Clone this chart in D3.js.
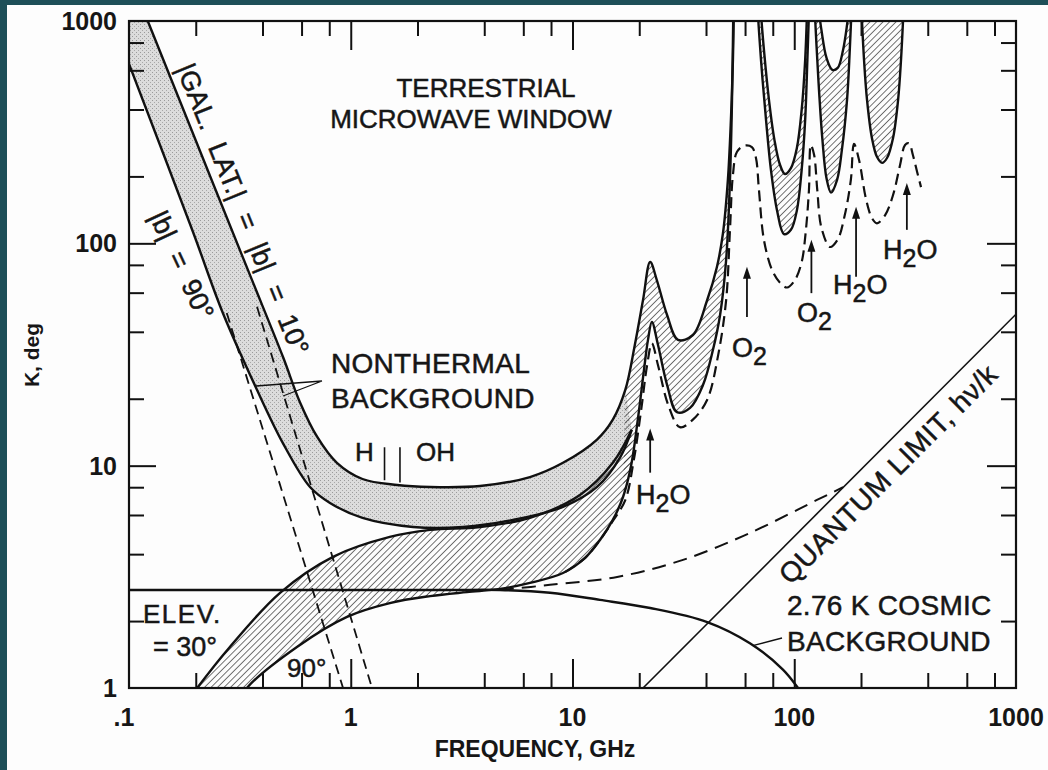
<!DOCTYPE html>
<html>
<head>
<meta charset="utf-8">
<script src="https://cdn.jsdelivr.net/npm/d3@7"></script>
<style>
  body { margin: 0; background: #fff; }
  svg { display: block; }
  text { font-family: "Liberation Sans", Arial, Helvetica, sans-serif; fill: #161616; }
  .ink { stroke: #161616; stroke-width: 0.5px; }
</style>
</head>
<body>
<svg id="chart" width="1048" height="770"></svg>
<script>
// ---- data (frequency in GHz, brightness temperature in K) ----
const xMajor = [0.1, 1, 10, 100, 1000]
const xLabels = [".1", "1", "10", "100", "1000"]
const yMajor = [1, 10, 100, 1000]
const yLabels = ["1", "10", "100", "1000"]
const minorSteps = [2, 4, 6, 8]

// total sky, |b| = 10 deg, elev 30 deg
const galUpper = [[0.1, 1611], [0.122, 990], [0.209, 260], [0.351, 72.1], [0.495, 30.8], [0.59, 19.3], [0.705, 13.5], [0.866, 10.3], [1.13, 8.71], [1.62, 8.19], [2.28, 8.02], [3.83, 8.1], [6.43, 8.89], [9.06, 10.3], [12.9, 13.1], [15.2, 16.1], [17.3, 21.9], [19.1, 34.9], [20.8, 55.6], [22.4, 82.4], [24.0, 68.4], [26.7, 47.6], [29.9, 36.8], [34.9, 38.7], [40.5, 55.6], [44.8, 78.3], [47.7, 111], [50.2, 193], [51.8, 359], [52.9, 668], [53.5, 1245]]
// total sky, |b| = 90 deg
const galLower = [[0.1, 641], [0.194, 113], [0.265, 48.6], [0.378, 21.9], [0.495, 12.6], [0.655, 8.02], [0.806, 6.8], [1.13, 5.82], [1.91, 5.3], [3.21, 5.3], [5.39, 5.7], [9.06, 6.52], [12.9, 8.02], [16.4, 10.9], [18.5, 14.5]]
// atmosphere, elevation 30 deg
const atm30 = [[0.179, 0.838], [0.203, 1.0], [0.285, 1.53], [0.48, 2.68], [0.832, 3.89], [1.5, 4.78], [2.28, 5.14], [3.83, 5.3], [6.43, 5.82], [10.8, 7.38], [15.2, 10.3], [18.5, 14.5]]
// atmosphere, elevation 90 deg
const atm90 = [[0.317, 0.883], [0.34, 1], [0.572, 1.53], [0.962, 2.09], [1.5, 2.41], [2.28, 2.59], [3.34, 2.7], [4.71, 2.79], [6.43, 2.97], [9.06, 3.29], [11.4, 3.85], [13.3, 4.63], [15.2, 5.7], [16.9, 7.23], [18.4, 10.07], [19.7, 16.1], [21.0, 26.9], [21.9, 36.8], [22.8, 44.3], [24.3, 34.9], [26.7, 23.1], [29.6, 17.4], [33.9, 18.2], [38.8, 23.1], [43.0, 33.2], [46.3, 47.6], [49.3, 84.2], [51.3, 193], [52.4, 442], [53.2, 1245]]
// dashed lower curve with the O2 / H2O lines
const atmDashed = [[9.25, 3.32], [11.4, 3.85], [13.3, 4.63], [15.2, 5.64], [17.3, 7.0], [18.9, 10.6], [20.4, 17.8], [21.7, 28.3], [22.8, 35.5], [24.3, 28.3], [27.0, 18.8], [30.5, 14.9], [34.9, 16.1], [40.5, 19.8], [45.4, 31.5], [49.3, 55.6], [51.3, 115], [52.9, 203], [55.2, 258], [59.5, 275], [64.4, 271], [67.2, 242], [69.3, 174], [73.0, 103.5], [79.4, 75.9], [86.3, 66.4], [92.7, 63.3], [100.7, 68.4], [108, 82.4], [112.5, 111], [116.5, 174], [118.8, 277], [123, 249], [127, 174], [132.6, 117.6], [145, 96.3], [157, 104], [169, 134], [180, 193], [186, 280], [196, 237], [211, 157], [224, 130], [236, 123], [257, 134], [279, 165], [300, 225], [316, 277], [329, 282], [343, 249], [358, 210], [373, 179]]
// windows between the saturated lines
const win1Outer = [[67.9, 1245], [70.8, 668], [74.6, 359], [78.5, 214], [83.6, 141], [89.9, 110], [96.6, 115], [102.8, 141], [108, 214], [112, 359], [114.6, 668], [117, 1245]]
const win1Inner = [[70.0, 1245], [73.0, 741], [76.9, 442], [81.4, 292], [86.3, 225], [90.8, 205], [96.6, 218], [102.8, 269], [108, 398], [112, 668], [114.6, 1245]]
const win2Outer = [[123, 1245], [128.5, 543], [134, 292], [139.8, 196], [146.5, 169], [156, 193], [164, 263], [173, 442], [178, 741], [182, 1245]]
const win2Inner = [[127.2, 1245], [132.6, 912], [139.8, 682], [148.6, 603], [157, 615], [166, 741], [173, 960], [178, 1245]]
const win3 = [[200, 1245], [206.4, 668], [212.9, 442], [224, 298], [236, 245], [249, 230], [262, 242], [279, 298], [294, 442], [303, 668], [312.5, 1245]]
// 2.76 K cosmic background and quantum limit
const cmb = [[0.1, 2.76], [0.59, 2.76], [2.8, 2.76], [4.71, 2.76], [7.92, 2.68], [13.3, 2.49], [22.4, 2.29], [40.5, 1.98], [63.1, 1.59], [88.9, 1.21], [104, 1.0], [112, 0.9]]
const cmbQuantum = [[4.71, 2.76], [7.92, 2.91], [15.9, 3.16], [31.5, 3.77], [63.1, 4.98], [126.6, 7.01], [166, 8.0]]
const quantumLimit = [[20.8, 1], [1000, 48]]
// pure galactic power laws
const galDashed10 = [[0.378, 51.8], [1.247, 1]]
const galDashed90 = [[0.276, 48.6], [0.923, 1]]
// spectral line markers
const hMarkers = [[1.42, 12.1, 8.6], [1.667, 12.1, 8.4]]
const lineArrows = [
    { f: 22.4, from: 9.3, to: 14.7, label: ["H", "2", "O"], lx: 636, ly: 504 },
    { f: 61.2, from: 46.6, to: 78.5, label: ["O", "2", ""], lx: 732, ly: 357 },
    { f: 119.5, from: 59.7, to: 103.7, label: ["O", "2", ""], lx: 797, ly: 322 },
    { f: 190, from: 70.8, to: 146, label: ["H", "2", "O"], lx: 833, ly: 294 },
    { f: 322, from: 115, to: 187, label: ["H", "2", "O"], lx: 883, ly: 259 }
]

const SVG = d3.select("#chart")
const Left = 129, Right = 1016, Top = 21, Bottom = 688

const x = d3.scaleLog().domain([0.1, 1000]).range([Left, Right])
const y = d3.scaleLog().domain([1, 1000]).range([Bottom, Top])

// scan border
SVG.append("rect").attr("width", 1048).attr("height", 770).attr("fill", "#fdfdfd")
SVG.append("rect").attr("width", 1048).attr("height", 5).attr("fill", "#1e4f58")
SVG.append("rect").attr("width", 7).attr("height", 770).attr("fill", "#1e4f58")

const defs = SVG.append("defs")
defs.append("clipPath").attr("id", "plot")
    .append("rect").attr("x", Left).attr("y", Top).attr("width", Right - Left).attr("height", Bottom - Top)

const hatch = defs.append("pattern").attr("id", "hatch")
    .attr("patternUnits", "userSpaceOnUse").attr("width", 4.6).attr("height", 10)
    .attr("patternTransform", "rotate(45)")
hatch.append("line").attr("x1", 0).attr("y1", 0).attr("x2", 0).attr("y2", 10)
    .attr("stroke", "#2a2a2a").attr("stroke-width", 1.3)

const dots = defs.append("pattern").attr("id", "dots")
    .attr("patternUnits", "userSpaceOnUse").attr("width", 4).attr("height", 4)
dots.append("rect").attr("width", 4).attr("height", 4).attr("fill", "#dcdcdc")
dots.append("rect").attr("width", 1).attr("height", 1).attr("fill", "#9a9a9a")
dots.append("rect").attr("x", 2).attr("y", 2).attr("width", 1).attr("height", 1).attr("fill", "#a8a8a8")

const line = d3.line()
    .x(d => x(d[0]))
    .y(d => y(d[1]))
    .curve(d3.curveCatmullRom.alpha(0.5))

function band(upper, lower) {
    return line(upper) + line(lower.slice().reverse()).replace(/^M/, "L") + "Z"
}

const plot = SVG.append("g").attr("clip-path", "url(#plot)")

// filled bands
plot.append("path")
    .attr("d", band(galUpper.filter(d => d[0] <= 17.3), galLower))
    .attr("fill", "url(#dots)")
plot.append("path")
    .attr("d", band(atm30, atm90.filter(d => d[0] <= 18.4)))
    .attr("fill", "url(#hatch)")
plot.append("path")
    .attr("d", band(galUpper.filter(d => d[0] >= 17.3), atm90.filter(d => d[0] >= 16.9)))
    .attr("fill", "url(#hatch)")
plot.append("path").attr("d", band(win1Inner, win1Outer)).attr("fill", "url(#hatch)")
plot.append("path").attr("d", band(win2Inner, win2Outer)).attr("fill", "url(#hatch)")
plot.append("path").attr("d", line(win3) + "Z").attr("fill", "url(#hatch)")

// solid curves
const solid = [galUpper, galLower, atm30, atm90, win1Outer, win1Inner, win2Outer, win2Inner, win3, cmb]
solid.forEach(c => {
    plot.append("path").attr("d", line(c))
        .attr("fill", "none").attr("stroke", "#111").attr("stroke-width", 2.4)
})

plot.append("path").attr("d", line(quantumLimit))
    .attr("fill", "none").attr("stroke", "#111").attr("stroke-width", 1.6)

// dashed curves
plot.append("path").attr("d", line(atmDashed))
    .attr("fill", "none").attr("stroke", "#111").attr("stroke-width", 2.2)
    .attr("stroke-dasharray", "11,6")
plot.append("path").attr("d", line(cmbQuantum))
    .attr("fill", "none").attr("stroke", "#111").attr("stroke-width", 2)
    .attr("stroke-dasharray", "14,8")
;[galDashed10, galDashed90].forEach(c => {
    plot.append("path").attr("d", line(c))
        .attr("fill", "none").attr("stroke", "#111").attr("stroke-width", 1.8)
        .attr("stroke-dasharray", "10,6")
})

// H and OH markers
hMarkers.forEach(m => {
    SVG.append("line")
        .attr("x1", x(m[0])).attr("x2", x(m[0]))
        .attr("y1", y(m[1])).attr("y2", y(m[2]))
        .attr("stroke", "#111").attr("stroke-width", 1.6)
})

// arrows to absorption lines
lineArrows.forEach(a => {
    const ax = x(a.f), y0 = y(a.from), y1 = y(a.to)
    SVG.append("line").attr("x1", ax).attr("x2", ax).attr("y1", y0).attr("y2", y1 + 8)
        .attr("stroke", "#111").attr("stroke-width", 1.8)
    SVG.append("path")
        .attr("d", `M${ax},${y1} L${ax - 4},${y1 + 12} L${ax + 4},${y1 + 12} Z`)
        .attr("fill", "#111")
    const t = SVG.append("text").attr("class", "ink")
        .attr("x", a.lx).attr("y", a.ly)
        .style("font-size", "27px")
    t.append("tspan").text(a.label[0])
    t.append("tspan").text(a.label[1]).attr("dy", 8).style("font-size", "25px")
    if (a.label[2]) t.append("tspan").text(a.label[2]).attr("dy", -8)
})

// axes: minor and major inward ticks
function ticks(axisFn, scale, values, size, transform) {
    const g = SVG.append("g").attr("transform", transform)
        .call(axisFn(scale).tickValues(values).tickSizeInner(-size).tickSizeOuter(0).tickFormat(""))
    g.select(".domain").remove()
    g.selectAll("line").attr("stroke", "#111").attr("stroke-width", 2)
}
const xMinor = [], yMinor = []
xMajor.slice(0, -1).forEach(d => minorSteps.forEach(m => xMinor.push(d * m)))
yMajor.slice(0, -1).forEach(d => minorSteps.forEach(m => yMinor.push(d * m)))

ticks(d3.axisBottom, x, xMinor, 15, `translate(0,${Bottom})`)
ticks(d3.axisTop, x, xMinor, 15, `translate(0,${Top})`)
ticks(d3.axisLeft, y, yMinor, 15, `translate(${Left},0)`)
ticks(d3.axisRight, y, yMinor, 15, `translate(${Right},0)`)
ticks(d3.axisBottom, x, xMajor.slice(1, -1), 29, `translate(0,${Bottom})`)
ticks(d3.axisTop, x, xMajor.slice(1, -1), 29, `translate(0,${Top})`)
ticks(d3.axisLeft, y, yMajor.slice(1, -1), 27, `translate(${Left},0)`)
ticks(d3.axisRight, y, yMajor.slice(1, -1), 29, `translate(${Right},0)`)

SVG.append("rect")
    .attr("x", Left).attr("y", Top).attr("width", Right - Left).attr("height", Bottom - Top)
    .attr("fill", "none").attr("stroke", "#111").attr("stroke-width", 2.2)

// tick labels
xMajor.forEach((d, i) => {
    SVG.append("text").text(xLabels[i])
        .attr("x", x(d) + (i === 0 ? -5 : 0)).attr("y", 726)
        .style("text-anchor", "middle").style("font-size", "25px").style("font-weight", 700)
})
yMajor.forEach((d, i) => {
    SVG.append("text").text(yLabels[i])
        .attr("x", 117).attr("y", y(d) + 9)
        .style("text-anchor", "end").style("font-size", "25px").style("font-weight", 700)
})

// axis titles
SVG.append("text").text("FREQUENCY, GHz")
    .attr("x", 535).attr("y", 757)
    .style("text-anchor", "middle").style("font-size", "23px").style("font-weight", 700)
SVG.append("text").text("K, deg")
    .attr("transform", "translate(39,355) rotate(-90)")
    .style("text-anchor", "middle").style("font-size", "21px").style("font-weight", 700)

// annotations
function label(str, lx, ly, size, anchor, spacing) {
    return SVG.append("text").text(str).attr("class", "ink")
        .attr("x", lx).attr("y", ly)
        .style("font-size", size + "px")
        .style("letter-spacing", (spacing || 0) + "px")
        .style("text-anchor", anchor || "start")
}
label("TERRESTRIAL", 486, 97, 26, "middle")
label("MICROWAVE WINDOW", 471, 128, 26, "middle")
label("NONTHERMAL", 331, 373, 28, "start", 0.3)
label("BACKGROUND", 331, 408, 28, "start", 0.3)
label("H", 355, 461, 26)
label("OH", 416, 461, 26)
label("ELEV.", 143, 623, 26, "start", 1.5)
label("= 30°", 153, 656, 27)
label("90°", 287, 677, 26)
label("2.76 K COSMIC", 787, 615, 28, "start", 0.3)
label("BACKGROUND", 787, 651, 28, "start", 0.3)

// pointers
SVG.append("path").attr("d", "M322,381 L256,386 M322,381 L283,396")
    .attr("fill", "none").attr("stroke", "#111").attr("stroke-width", 1.3)
SVG.append("line")
    .attr("x1", x(65)).attr("y1", y(1.55)).attr("x2", 782).attr("y2", 638)
    .attr("stroke", "#111").attr("stroke-width", 1.3)

// rotated labels along the curves
SVG.append("text").text("|GAL. LAT.| = |b| = 10°").attr("class", "ink")
    .attr("transform", "translate(243,209) rotate(68)")
    .attr("dy", "0.35em")
    .style("text-anchor", "middle").style("font-size", "27px").style("word-spacing", "9px")
SVG.append("text").text("|b| = 90°").attr("class", "ink")
    .attr("transform", "translate(182,265) rotate(65)")
    .attr("dy", "0.35em")
    .style("text-anchor", "middle").style("font-size", "27px").style("word-spacing", "8px")

const q0 = [x(quantumLimit[0][0]), y(quantumLimit[0][1])]
const q1 = [x(quantumLimit[1][0]), y(quantumLimit[1][1])]
const qAngle = Math.atan2(q1[1] - q0[1], q1[0] - q0[0]) * 180 / Math.PI
SVG.append("text").text("QUANTUM LIMIT, hν/k").attr("class", "ink")
    .attr("transform", `translate(888,474) rotate(${qAngle})`)
    .attr("dy", "0.35em")
    .style("text-anchor", "middle").style("font-size", "28px").style("letter-spacing", "0.6px")
</script>
</body>
</html>
